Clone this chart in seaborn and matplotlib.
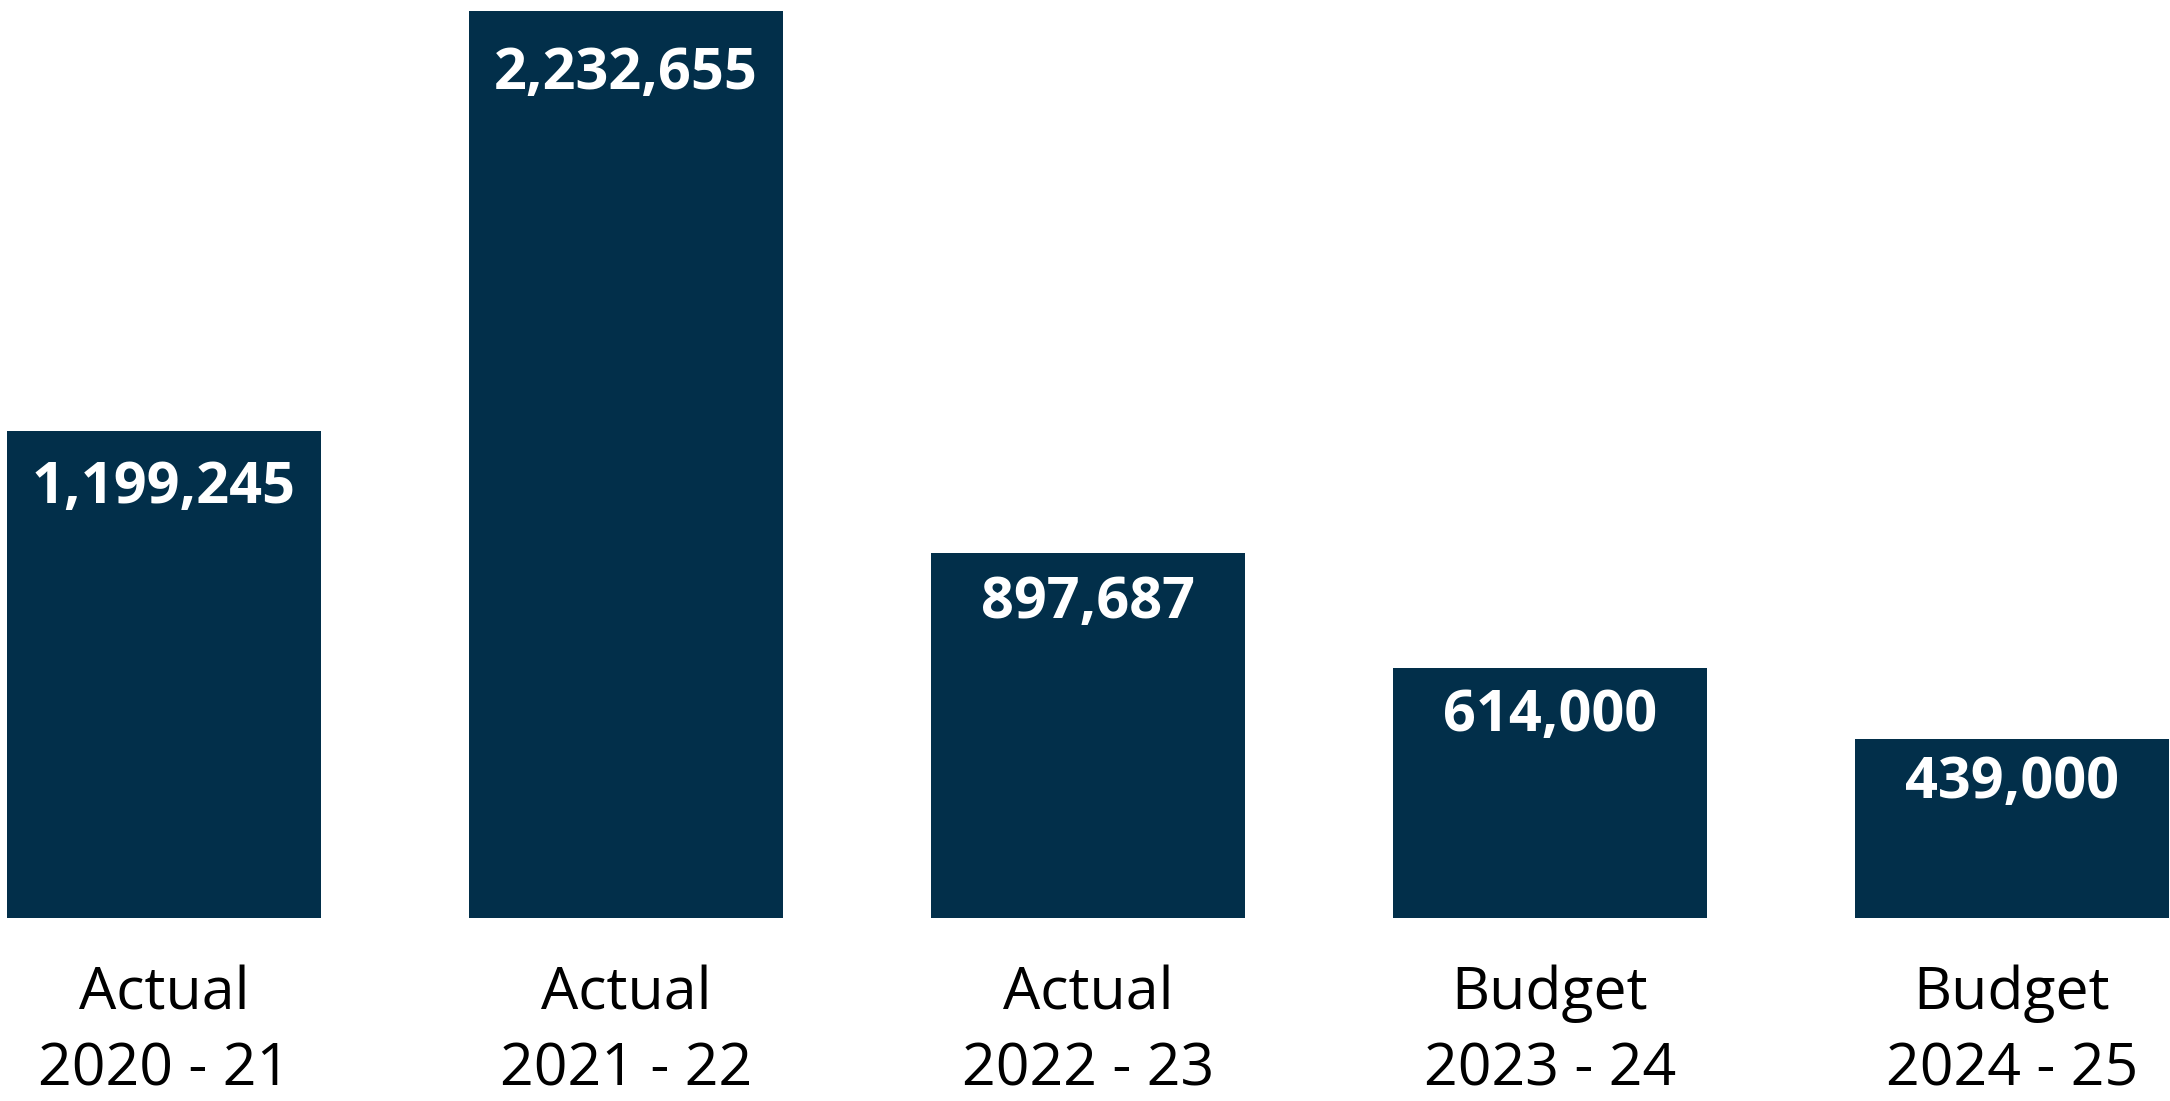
import matplotlib
matplotlib.use("Agg")
import matplotlib.pyplot as plt
import seaborn as sns
import pandas as pd

# ---- data ----
kinds = ["Actual", "Actual", "Actual", "Budget", "Budget"]
years = ["2020 - 21", "2021 - 22", "2022 - 23", "2023 - 24", "2024 - 25"]
values = [1199245, 2232655, 897687, 614000, 439000]

# ---- layout / style (not data) ----
label_gap_px = [31, 37, 24, 22, 18]
BAR_COLOR = "#022F4A"
FONT = "Open Sans"

sns.set_theme(style="white")
plt.rcParams["font.family"] = [FONT, "DejaVu Sans"]

categories = [f"{k}\n{y}" for k, y in zip(kinds, years)]
df = pd.DataFrame({"cat": categories, "value": values})

W, H, DPI = 2170, 1101, 100
fig = plt.figure(figsize=(W / DPI, H / DPI), dpi=DPI, facecolor="white")
bottom_px = 917.5
ax = fig.add_axes([0, (H - bottom_px) / H, 1, bottom_px / H])
ax.set_facecolor("white")

sns.barplot(data=df, x="cat", y="value", color=BAR_COLOR, width=0.68,
            saturation=1, ax=ax, linewidth=0)

top_val = max(values)
ax.set_ylim(0, top_val * bottom_px / 906)
ax.set_xlim(-164 / 462, -164 / 462 + W / 462)

for i, v in enumerate(values):
    ax.annotate(f"{v:,}", xy=(i, v), xytext=(0, -(label_gap_px[i] - 3) * 72 / DPI),
                textcoords="offset points", ha="center", va="top",
                color="white", fontsize=41.5, fontweight="bold", family=FONT)

ax.set_xticks(range(len(categories)))
ax.set_xticklabels(categories, fontsize=42.5, color="black", linespacing=1.4)
ax.tick_params(axis="x", length=0, pad=34)
ax.set_xlabel("")
ax.set_ylabel("")
ax.set_yticks([])
for s in ax.spines.values():
    s.set_visible(False)

fig.savefig("out.png", dpi=DPI, facecolor="white")
